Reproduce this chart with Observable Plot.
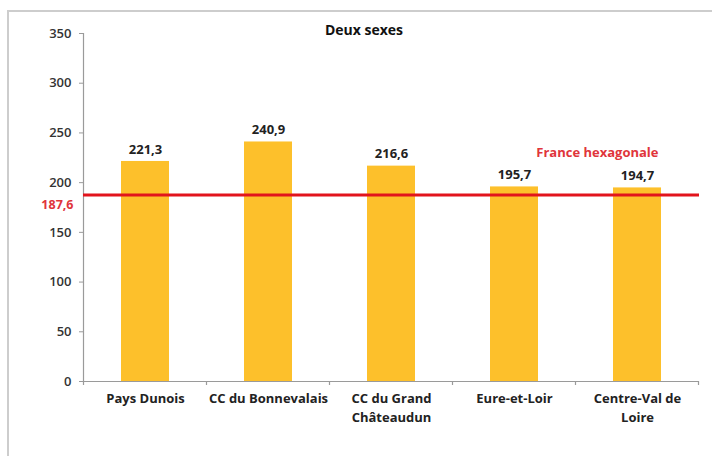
<!DOCTYPE html>
<html>
<head>
<meta charset="utf-8">
<script src="https://cdn.jsdelivr.net/npm/d3@7"></script>
<script src="https://cdn.jsdelivr.net/npm/@observablehq/plot@0.6"></script>
<style>
  body { margin: 0; background: #fff; }
  #wrap { position: relative; width: 712px; height: 456px; overflow: hidden; font-family: "Open Sans", sans-serif; }
  #wrap svg { position: absolute; left: 0; top: 0; }
  #box { position: absolute; left: 7px; top: 10px; width: 730px; height: 470px; border: 2px solid #cdcdcd; box-sizing: border-box; }
  #title { position: absolute; top: 20px; left: 0; width: 728px; text-align: center; font: bold 14px "Open Sans", sans-serif; color: #111; }
</style>
</head>
<body>
<div id="wrap"><div id="box"></div></div>
<script>
// Territories compared, and their rate for both sexes combined
const territories = ["Pays Dunois", "CC du Bonnevalais", "CC du Grand\nChâteaudun", "Eure-et-Loir", "Centre-Val de\nLoire"];
const rates = [221.3, 240.9, 216.6, 195.7, 194.7];

// Reference value for metropolitan France
const franceRate = 187.6;
const franceLabel = "France hexagonale";

const chartTitle = "Deux sexes";
const yTicks = [0, 50, 100, 150, 200, 250, 300, 350];

const fr = d3.formatLocale({decimal: ",", thousands: " ", grouping: [3], currency: ["", " €"]});
const fmt = fr.format(".1f");

const data = territories.map((t, i) => ({territory: t, rate: rates[i]}));

const red = "#e2141c";
const labelRed = "#e0353b";
const axisGrey = "#9a9a9a";

const chart = Plot.plot({
  width: 712,
  height: 456,
  marginLeft: 83,
  marginRight: 13,
  marginTop: 33,
  marginBottom: 75,
  style: {fontFamily: "'Open Sans', sans-serif", background: "transparent", overflow: "visible"},
  x: {domain: territories, paddingInner: 0.61, paddingOuter: 0.305, axis: null},
  y: {domain: [0, 350], label: null, axis: null},
  marks: [
    Plot.barY(data, {x: "territory", y: "rate", fill: "#fdc02b"}),
    Plot.ruleY([0], {stroke: axisGrey, strokeWidth: 1.2}),
    Plot.frame({anchor: "left", stroke: axisGrey, strokeWidth: 1.2}),
    Plot.axisY({ticks: yTicks, tickSize: 4, tickPadding: 8, fontSize: 13, fontWeight: 600, stroke: axisGrey, fill: "#333", label: null, tickFormat: d3.format("d")}),
    Plot.ruleY([franceRate], {stroke: red, strokeWidth: 3}),
    Plot.text(data, {x: "territory", y: "rate", text: d => fmt(d.rate), dy: -12, fontSize: 13, fontWeight: "bold", fill: "#222"}),
    Plot.text(data, {x: "territory", frameAnchor: "bottom", text: "territory", lineAnchor: "top", dy: 9, fontSize: 13, fontWeight: "bold", fill: "#222", lineHeight: 1.4}),
    Plot.text([franceRate], {y: d => d, frameAnchor: "left", text: d => fmt(d), textAnchor: "end", dx: -10, dy: 10, fontSize: 12.5, fontWeight: "bold", fill: labelRed}),
    Plot.text([franceRate], {y: d => d, frameAnchor: "right", text: () => franceLabel, textAnchor: "end", dx: -41, dy: -42, fontSize: 13, fontWeight: "bold", fill: labelRed})
  ]
});

// Category boundary ticks below the x axis line
const xs = chart.scale("x");
const ys = chart.scale("y");
const y0 = ys.apply(0);
const gap = (xs.step - xs.bandwidth) / 2;
const bounds = territories.map(t => xs.apply(t) - gap);
bounds.push(xs.apply(territories[territories.length - 1]) + xs.bandwidth + gap);
d3.select(chart).append("g")
  .attr("stroke", axisGrey)
  .attr("stroke-width", 1.2)
  .selectAll("line")
  .data(bounds)
  .join("line")
  .attr("x1", d => d).attr("x2", d => d)
  .attr("y1", y0).attr("y2", y0 + 4);

const wrap = document.getElementById("wrap");
wrap.appendChild(chart);
const title = document.createElement("div");
title.id = "title";
title.textContent = chartTitle;
wrap.appendChild(title);
</script>
</body>
</html>
